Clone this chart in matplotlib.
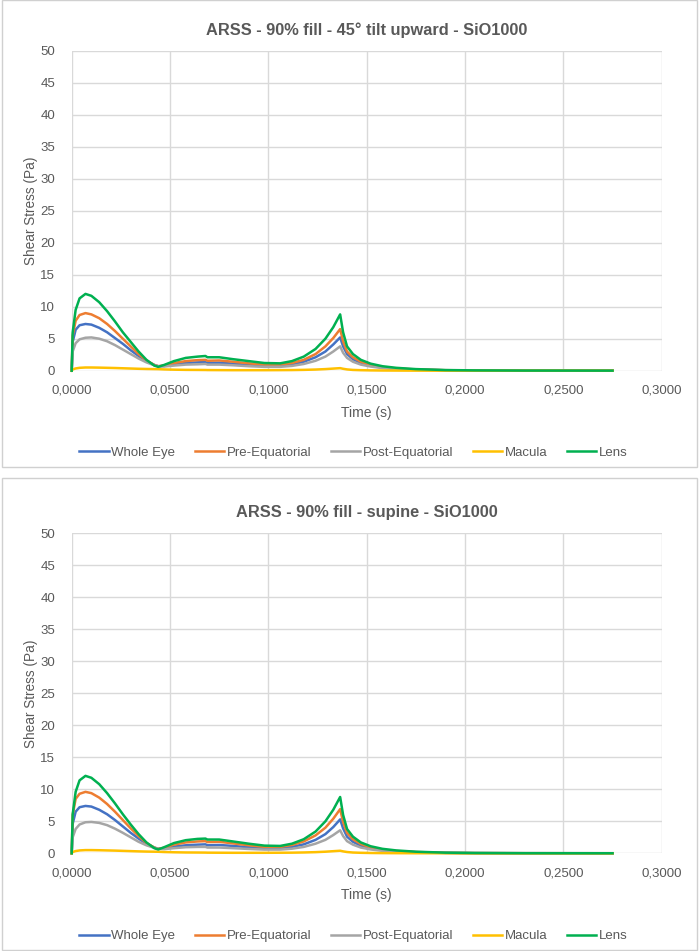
import matplotlib
matplotlib.use("Agg")
import matplotlib.pyplot as plt
from matplotlib.patches import Rectangle

plt.rcParams['font.family'] = ['Liberation Sans', 'DejaVu Sans']

# ---------------- data ----------------
time_s = [0, 0.0005, 0.002, 0.004, 0.007, 0.010, 0.014, 0.018, 0.022, 0.026,
          0.030, 0.034, 0.038, 0.042, 0.044, 0.047, 0.052, 0.058, 0.064, 0.068,
          0.069, 0.075, 0.082, 0.090, 0.098, 0.106, 0.112, 0.118, 0.124, 0.129,
          0.133, 0.1365, 0.138, 0.140, 0.143, 0.147, 0.152, 0.158, 0.165, 0.175,
          0.190, 0.205, 0.230, 0.275]

series_names = ["Whole Eye", "Pre-Equatorial", "Post-Equatorial", "Macula", "Lens"]
series_colors = ["#4472C4", "#ED7D31", "#A5A5A5", "#FFC000", "#00B050"]

# Chart 1: 45° tilt upward
tilt_whole = [0, 4.5, 6.4, 7.1, 7.3, 7.2, 6.7, 6.0, 5.1, 4.2,
              3.2, 2.3, 1.5, 0.9, 0.7, 0.75, 1.0, 1.2, 1.3, 1.35,
              1.2, 1.25, 1.1, 0.9, 0.8, 0.8, 1.0, 1.4, 2.1, 3.0,
              4.1, 5.2, 3.8, 2.6, 1.8, 1.2, 0.8, 0.5, 0.3, 0.17,
              0.07, 0.03, 0.015, 0.01]
tilt_pre = [0, 5.5, 7.8, 8.7, 9.0, 8.8, 8.2, 7.3, 6.2, 5.0,
            3.8, 2.6, 1.6, 0.9, 0.7, 0.8, 1.2, 1.5, 1.65, 1.7,
            1.55, 1.6, 1.4, 1.15, 0.95, 0.95, 1.2, 1.7, 2.6, 3.8,
            5.1, 6.5, 4.6, 3.0, 2.1, 1.4, 0.9, 0.55, 0.35, 0.2,
            0.08, 0.04, 0.02, 0.01]
tilt_post = [0, 3.0, 4.3, 4.9, 5.15, 5.2, 5.0, 4.6, 4.0, 3.3,
             2.6, 1.9, 1.3, 0.85, 0.7, 0.65, 0.8, 0.95, 1.0, 1.05,
             0.95, 0.95, 0.85, 0.7, 0.6, 0.6, 0.75, 1.05, 1.55, 2.2,
             3.0, 3.8, 2.8, 2.0, 1.4, 0.95, 0.65, 0.4, 0.25, 0.14,
             0.06, 0.03, 0.01, 0.01]
tilt_macula = [0, 0.2, 0.35, 0.45, 0.5, 0.5, 0.48, 0.45, 0.42, 0.38,
               0.34, 0.3, 0.27, 0.25, 0.24, 0.2, 0.16, 0.13, 0.12, 0.11,
               0.1, 0.09, 0.08, 0.08, 0.08, 0.09, 0.1, 0.13, 0.18, 0.25,
               0.33, 0.4, 0.3, 0.2, 0.12, 0.08, 0.05, 0.03, 0.02, 0.01,
               0.01, 0.0, 0.0, 0.0]
tilt_lens = [0, 6.0, 9.5, 11.3, 12.0, 11.7, 10.7, 9.3, 7.7, 6.0,
             4.5, 3.0, 1.7, 0.8, 0.6, 0.9, 1.5, 2.0, 2.2, 2.3,
             2.1, 2.1, 1.8, 1.5, 1.2, 1.15, 1.5, 2.2, 3.4, 5.0,
             6.8, 8.8, 6.0, 3.8, 2.6, 1.7, 1.1, 0.7, 0.45, 0.25,
             0.1, 0.05, 0.02, 0.01]

# Chart 2: supine
sup_whole = [0, 4.6, 6.5, 7.2, 7.4, 7.3, 6.8, 6.1, 5.2, 4.2,
             3.2, 2.3, 1.5, 0.9, 0.7, 0.8, 1.05, 1.25, 1.35, 1.4,
             1.25, 1.3, 1.15, 0.95, 0.8, 0.8, 1.0, 1.4, 2.1, 3.0,
             4.1, 5.3, 3.9, 2.6, 1.8, 1.2, 0.8, 0.5, 0.3, 0.17,
             0.07, 0.03, 0.015, 0.01]
sup_pre = [0, 6.0, 8.5, 9.3, 9.6, 9.4, 8.7, 7.7, 6.5, 5.2,
           3.9, 2.7, 1.6, 0.9, 0.7, 0.85, 1.35, 1.7, 1.85, 1.9,
           1.75, 1.8, 1.55, 1.25, 1.0, 1.0, 1.3, 1.85, 2.8, 4.0,
           5.4, 6.9, 4.9, 3.2, 2.2, 1.45, 0.9, 0.55, 0.35, 0.2,
           0.08, 0.04, 0.02, 0.01]
sup_post = [0, 2.5, 3.8, 4.5, 4.85, 4.9, 4.75, 4.4, 3.85, 3.2,
            2.5, 1.8, 1.25, 0.85, 0.7, 0.65, 0.8, 0.95, 1.0, 1.0,
            0.9, 0.9, 0.8, 0.68, 0.58, 0.58, 0.72, 1.0, 1.5, 2.1,
            2.85, 3.6, 2.7, 1.9, 1.35, 0.9, 0.6, 0.38, 0.24, 0.13,
            0.06, 0.03, 0.01, 0.01]
sup_macula = [0, 0.2, 0.35, 0.45, 0.5, 0.5, 0.48, 0.45, 0.42, 0.38,
              0.34, 0.3, 0.27, 0.25, 0.24, 0.2, 0.16, 0.13, 0.12, 0.11,
              0.1, 0.09, 0.08, 0.08, 0.08, 0.09, 0.1, 0.13, 0.18, 0.25,
              0.33, 0.4, 0.3, 0.2, 0.12, 0.08, 0.05, 0.03, 0.02, 0.01,
              0.01, 0.0, 0.0, 0.0]
sup_lens = [0, 6.1, 9.6, 11.4, 12.1, 11.8, 10.8, 9.4, 7.8, 6.1,
            4.5, 3.0, 1.7, 0.8, 0.6, 0.95, 1.6, 2.05, 2.25, 2.3,
            2.15, 2.15, 1.85, 1.5, 1.2, 1.15, 1.5, 2.2, 3.4, 5.0,
            6.8, 8.8, 6.0, 3.8, 2.6, 1.7, 1.1, 0.7, 0.45, 0.25,
            0.1, 0.05, 0.02, 0.01]

titles = ["ARSS - 90% fill - 45° tilt upward - SiO1000",
          "ARSS - 90% fill - supine - SiO1000"]
x_ticks = [0, 0.05, 0.10, 0.15, 0.20, 0.25, 0.30]
x_tick_labels = ["0,0000", "0,0500", "0,1000", "0,1500", "0,2000", "0,2500", "0,3000"]
y_ticks = [0, 5, 10, 15, 20, 25, 30, 35, 40, 45, 50]

charts = [
    [tilt_whole, tilt_pre, tilt_post, tilt_macula, tilt_lens],
    [sup_whole, sup_pre, sup_post, sup_macula, sup_lens],
]

# ---------------- figure ----------------
W, H = 700, 951
fig = plt.figure(figsize=(W / 100, H / 100), dpi=100)
text_col = "#595959"
grid_col = "#d9d9d9"

# chart frames (pixel coords from top)
frames = [(2, 0, 695, 467), (2, 478, 695, 472)]
for (fx, fy, fw, fh) in frames:
    fig.patches.append(Rectangle((fx / W, 1 - (fy + fh) / H), fw / W, fh / H,
                                 transform=fig.transFigure, fill=False,
                                 edgecolor="#d0d0d0", linewidth=1.0))

axes_px = [(71.7, 50.7, 661.7, 370.7), (71.7, 533.3, 661.7, 853.3)]
title_y = [30, 513]
xlabel_y = [413, 895]
legend_y = [453, 936]

for i, vals in enumerate(charts):
    l, t, r, b = axes_px[i]
    ax = fig.add_axes([l / W, 1 - b / H, (r - l) / W, (b - t) / H])
    for v, name, col in zip(vals, series_names, series_colors):
        ax.plot(time_s, v, color=col, linewidth=1.8, label=name,
                solid_joinstyle="round", clip_on=False)
    ax.set_xlim(0, 0.3)
    ax.set_ylim(0, 50)
    ax.set_xticks(x_ticks)
    ax.set_xticklabels(x_tick_labels)
    ax.set_yticks(y_ticks)
    ax.grid(True, color=grid_col, linewidth=1.0)
    ax.set_axisbelow(True)
    for s in ax.spines.values():
        s.set_visible(False)
    ax.tick_params(length=0, colors=text_col, labelsize=9.5)
    ax.tick_params(axis='x', pad=10)
    ax.tick_params(axis='y', pad=12)
    ax.set_ylabel("Shear Stress (Pa)", color=text_col, fontsize=9.8)
    ax.yaxis.set_label_coords((38 - l) / (r - l), 0.5)
    cx = (l + r) / 2 / W
    fig.text(cx, 1 - title_y[i] / H, titles[i], ha="center", va="center",
             fontsize=11.8, fontweight="bold", color=text_col)
    fig.text(cx, 1 - xlabel_y[i] / H, "Time (s)", ha="center",
             va="center", fontsize=10, color=text_col)
    handles, labels = ax.get_legend_handles_labels()
    leg = fig.legend(handles, labels, loc="center", ncol=5,
                     bbox_to_anchor=(0.505, 1 - legend_y[i] / H),
                     frameon=False, fontsize=9.5, handlelength=2.2,
                     handletextpad=0.2, columnspacing=1.5)
    for txt in leg.get_texts():
        txt.set_color(text_col)

fig.savefig("out.png", dpi=100)
